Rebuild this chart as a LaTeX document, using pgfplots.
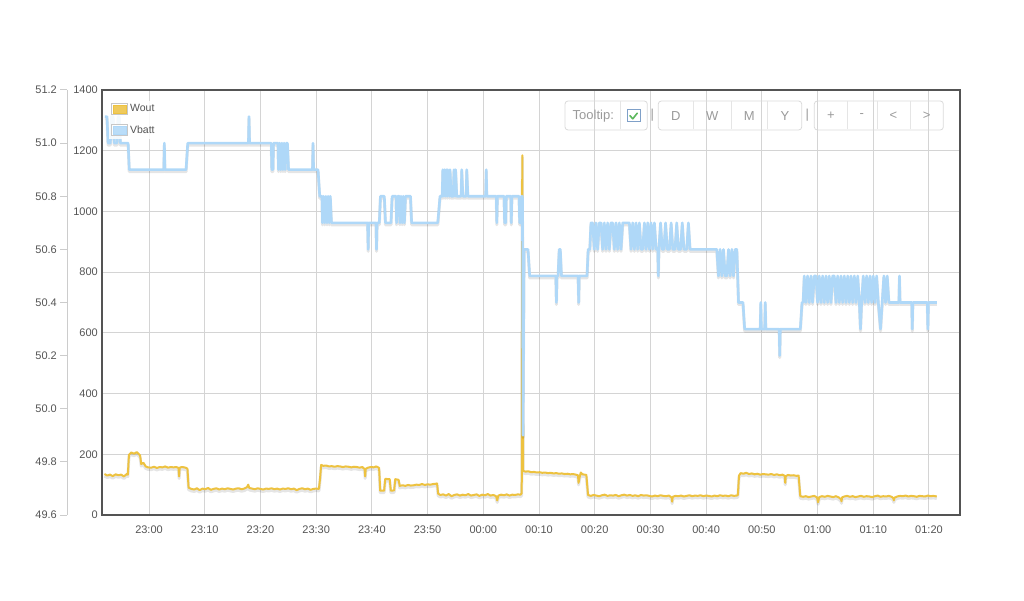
\documentclass[border=0pt]{standalone}
\usepackage{pgfplots}
\pgfplotsset{compat=1.18}
\usepackage{pgfplotstable}
\usepackage{fontspec}
\setmainfont{Liberation Sans}
\definecolor{woutc}{HTML}{EDC240}
\definecolor{vbattc}{HTML}{AFD8F8}
\definecolor{gridc}{HTML}{D4D4D4}
\definecolor{framec}{HTML}{545454}
\definecolor{labelc}{HTML}{545454}
\definecolor{vaxc}{HTML}{CCCCCC}
\definecolor{btnc}{HTML}{DADADA}
\definecolor{btntext}{HTML}{9A9A9A}
\definecolor{chkc}{HTML}{7FA0C8}
\definecolor{chkg}{HTML}{5CB85C}

\pgfplotstableread{
t w
-8.0 135
-7.5 130
-7.0 133
-6.5 128
-6.0 134
-5.5 131
-5.0 133
-4.5 127
-4.0 135
-3.8 133
-3.6 198
-3.2 206
-2.7 202
-2.2 207
-1.8 200
-1.6 196
-1.4 168
-1.0 172
-0.6 160
-0.2 157
0.4 156
0.9 159
1.4 155
1.9 158
2.4 157
2.9 160
3.4 156
3.9 158
4.4 157
4.9 158
5.3 155
5.4 127
5.5 156
5.9 158
6.3 157
6.7 155
6.9 152
7.1 90
7.6 86
8.1 84
8.6 88
9.1 82
9.6 87
10.1 85
10.6 89
11.1 83
11.6 86
12.1 88
12.6 84
13.1 87
13.6 85
14.1 88
14.6 86
15.1 84
15.6 87
16.1 88
16.6 85
17.1 87
17.6 92
17.8 100
18.0 89
18.5 87
19.0 85
19.5 88
20.0 86
20.5 84
21.0 87
21.5 86
22.0 88
22.5 85
23.0 87
23.5 84
24.0 87
24.5 86
25.0 88
25.5 85
26.0 87
26.5 82
27.0 86
27.5 88
28.0 85
28.5 87
29.0 83
29.5 86
30.0 87
30.5 86
30.7 120
30.9 165
31.3 162
31.8 163
32.3 160
32.8 161
33.3 159
33.8 161
34.3 160
34.8 158
35.3 160
35.8 159
36.3 157
36.8 159
37.3 158
37.8 156
38.3 158
38.7 151
38.8 127
38.9 152
39.3 156
39.8 158
40.3 157
40.8 160
41.3 155
41.5 80
42.2 80
42.4 119
43.2 118
43.4 80
44.0 81
44.2 118
44.8 116
45.0 96
45.5 98
46.0 96
46.5 99
47.0 97
47.5 98
48.0 100
48.5 99
49.0 102
49.5 99
50.0 101
50.5 100
51.0 102
51.5 103
51.7 104
51.9 70
52.3 66
52.8 68
53.3 64
53.8 69
54.3 62
54.8 66
55.3 68
55.8 64
56.3 67
56.8 65
57.3 69
57.8 64
58.3 66
58.8 68
59.3 63
59.8 67
60.3 65
60.8 69
61.3 64
61.8 66
62.3 62
62.5 48
62.7 64
63.2 67
63.7 65
64.2 68
64.7 64
65.2 67
65.7 66
66.2 68
66.7 67
66.9 72
67.0 1185
67.15 145
67.6 143
68.1 144
68.6 141
69.1 142
69.6 140
70.1 141
70.6 139
71.1 140
71.6 138
72.1 139
72.6 137
73.1 138
73.6 136
74.1 137
74.6 135
75.1 136
75.6 134
76.1 135
76.6 133
77.0 131
77.1 106
77.3 125
77.5 140
77.8 134
78.2 133
78.5 132
78.8 66
79.3 63
79.8 66
80.3 64
80.8 62
81.3 65
81.8 67
82.3 63
82.8 65
83.3 64
83.8 66
84.3 62
84.8 65
85.3 67
85.8 64
86.3 66
86.8 63
87.3 65
87.8 62
88.3 66
88.8 64
89.3 65
89.8 63
90.3 61
90.8 64
91.3 62
91.8 65
92.3 63
92.8 62
93.3 64
93.8 58
93.9 44
94.0 60
94.5 63
95.0 62
95.5 64
96.0 61
96.5 63
97.0 65
97.5 62
98.0 64
98.5 63
99.0 65
99.5 62
100.0 64
100.5 63
101.0 61
101.5 64
102.0 62
102.5 65
103.0 63
103.5 64
104.0 62
104.5 65
105.0 63
105.5 64
105.7 66
105.9 130
106.2 138
106.7 136
107.2 139
107.7 135
108.2 137
108.7 134
109.2 136
109.7 133
110.2 135
110.7 134
111.2 133
111.7 135
112.2 132
112.7 134
113.2 131
113.7 133
114.1 129
114.2 106
114.3 128
114.7 132
115.2 130
115.7 131
116.2 129
116.6 130
116.9 62
117.4 60
117.9 62
118.4 59
118.9 61
119.4 63
119.9 58
120.1 42
120.3 59
120.8 62
121.3 60
121.8 63
122.3 61
122.8 59
123.3 62
123.8 58
124.2 52
124.3 45
124.4 58
124.8 61
125.3 63
125.8 60
126.3 62
126.8 59
127.3 61
127.8 63
128.3 60
128.8 62
129.3 61
129.8 59
130.3 62
130.8 64
131.3 60
131.8 62
132.3 61
132.8 63
133.3 60
133.6 55
133.7 48
133.8 57
134.3 61
134.8 63
135.3 62
135.8 64
136.3 61
136.8 63
137.3 62
137.8 60
138.3 63
138.8 62
139.3 61
139.8 64
140.3 62
140.8 63
141.4 61
}\wouttable

\pgfplotstableread{
t v
-8.0 51.1
-7.6 51.1
-7.4 51.0
-7.0 51.0
-6.8 51.1
-6.5 51.1
-6.3 51.0
-5.8 51.0
-5.6 51.1
-5.4 51.1
-5.2 51.0
-3.8 51.0
-3.6 50.9
2.6 50.9
2.7 51.0
2.8 50.9
6.6 50.9
6.9 51.0
17.8 51.0
17.9 51.1
18.0 51.0
21.9 51.0
22.0 50.9
22.2 50.9
22.3 51.0
23.1 51.0
23.2 50.9
23.4 51.0
23.6 50.9
23.8 51.0
24.0 50.9
24.2 51.0
24.4 50.9
24.6 51.0
24.8 51.0
25.0 50.9
29.3 50.9
29.4 51.0
29.5 50.9
30.3 50.9
30.6 50.8
31.0 50.8
31.1 50.7
31.3 50.8
31.5 50.7
31.7 50.8
31.9 50.7
32.1 50.8
32.3 50.7
32.5 50.8
32.7 50.7
39.2 50.7
39.3 50.6
39.4 50.7
40.7 50.7
40.8 50.6
40.9 50.7
41.3 50.7
41.5 50.8
42.2 50.8
42.4 50.7
43.4 50.7
43.6 50.8
44.3 50.8
44.4 50.7
44.6 50.8
44.9 50.8
45.0 50.7
45.2 50.8
45.4 50.7
45.6 50.8
45.8 50.7
46.0 50.8
46.9 50.8
47.1 50.7
51.8 50.7
52.2 50.8
52.6 50.8
52.7 50.9
52.9 50.8
53.0 50.9
53.2 50.8
53.3 50.9
53.5 50.8
53.6 50.9
53.9 50.8
54.0 50.9
54.2 50.8
54.6 50.8
54.7 50.9
54.9 50.8
55.0 50.9
55.2 50.8
56.0 50.8
56.1 50.9
56.3 50.8
56.9 50.8
57.0 50.9
57.2 50.8
60.4 50.8
60.5 50.9
60.6 50.8
62.3 50.8
62.4 50.7
62.5 50.8
63.7 50.8
63.8 50.7
64.0 50.7
64.1 50.8
64.9 50.8
65.0 50.7
65.1 50.8
66.4 50.8
66.5 50.7
66.7 50.7
66.8 50.8
67.0 50.8
67.1 49.9
67.3 50.6
68.0 50.6
68.3 50.5
73.0 50.5
73.1 50.4
73.2 50.5
73.4 50.5
73.6 50.6
73.8 50.6
74.0 50.5
77.0 50.5
77.1 50.4
77.2 50.5
78.6 50.5
78.8 50.6
79.1 50.6
79.3 50.7
79.6 50.7
79.9 50.6
80.2 50.7
80.5 50.6
80.8 50.7
81.1 50.7
81.4 50.6
81.7 50.7
82.0 50.6
82.3 50.7
82.6 50.6
82.9 50.7
83.2 50.7
83.5 50.6
83.8 50.7
84.1 50.6
84.4 50.7
84.7 50.6
85.0 50.7
86.2 50.7
86.5 50.6
86.8 50.7
87.1 50.6
87.4 50.7
87.7 50.6
88.0 50.7
88.3 50.6
88.6 50.6
88.9 50.7
89.2 50.6
89.5 50.7
89.8 50.6
90.1 50.7
90.4 50.6
90.7 50.7
91.0 50.6
91.3 50.6
91.4 50.5
91.5 50.6
91.8 50.7
92.1 50.6
92.4 50.6
92.7 50.7
93.0 50.6
93.4 50.6
93.7 50.7
94.0 50.6
94.4 50.6
94.7 50.7
95.0 50.6
95.4 50.6
95.7 50.7
96.0 50.6
96.5 50.6
96.8 50.7
97.1 50.6
101.9 50.6
102.2 50.5
102.5 50.6
102.8 50.5
103.1 50.6
103.4 50.5
103.7 50.5
104.0 50.6
104.3 50.5
104.6 50.6
104.9 50.5
105.2 50.6
105.5 50.6
105.8 50.4
106.6 50.4
106.9 50.3
109.7 50.3
109.8 50.4
109.9 50.3
110.5 50.3
110.6 50.4
110.7 50.3
113.1 50.3
113.2 50.2
113.3 50.3
116.9 50.3
117.2 50.4
117.4 50.4
117.6 50.5
117.9 50.4
118.2 50.5
118.5 50.4
118.8 50.5
119.1 50.4
119.4 50.5
119.7 50.5
120.0 50.4
120.3 50.5
120.6 50.4
120.9 50.5
121.2 50.4
121.5 50.5
121.8 50.4
122.1 50.5
122.4 50.4
122.7 50.5
123.0 50.5
123.3 50.4
123.6 50.5
123.9 50.4
124.2 50.5
124.5 50.4
124.8 50.5
125.1 50.4
125.4 50.5
125.7 50.4
126.0 50.5
126.3 50.4
126.6 50.5
126.9 50.4
127.2 50.5
127.5 50.4
127.7 50.3
127.9 50.4
128.2 50.5
128.5 50.4
128.8 50.5
129.1 50.4
129.4 50.5
129.7 50.4
130.0 50.5
130.3 50.4
130.6 50.5
130.9 50.4
131.3 50.3
131.6 50.4
131.9 50.5
132.2 50.4
132.5 50.5
132.8 50.4
134.6 50.4
134.7 50.5
134.8 50.4
136.9 50.4
137.0 50.3
137.1 50.4
139.7 50.4
139.8 50.3
139.9 50.4
141.4 50.4
}\vbatttable

\begin{document}
\begin{tikzpicture}[x=1pt,y=1pt]
\begin{axis}[
  at={(102pt,85pt)}, anchor=south west,
  scale only axis, width=858pt, height=425pt,
  xmin=-8.44, xmax=145.57, ymin=0, ymax=1400,
  xtick={0,10,...,140},
  xticklabels={23:00,23:10,23:20,23:30,23:40,23:50,00:00,00:10,00:20,00:30,00:40,00:50,01:00,01:10,01:20},
  ytick={0,200,...,1400},
  yticklabels={0,200,400,600,800,1000,1200,1400},
  grid=major, major grid style={gridc, line width=1pt},
  major tick length=0pt,
  axis line style={framec, line width=2pt},
  /pgf/number format/assume math mode=true,
  tick label style={font=\fontsize{11}{13}\selectfont, text=labelc},
  xticklabel style={anchor=base, yshift=-18pt},
  yticklabel style={anchor=east, inner sep=4pt},
]
\addplot[forget plot, draw=black, draw opacity=0.10, line width=3pt, yshift=-2pt, line join=round, mark=none] table[x=t,y=w] {\wouttable};
\addplot[forget plot, draw=woutc, line width=2pt, line join=round, mark=none] table[x=t,y=w] {\wouttable};
\end{axis}

\begin{axis}[
  at={(67pt,85pt)}, anchor=south west,
  scale only axis, width=893pt, height=425pt,
  xmin=-14.78, xmax=145.57, ymin=49.6, ymax=51.2,
  axis x line=none, axis y line*=left,
  y axis line style={vaxc, line width=1pt, -},
  ytick={49.6,49.8,50.0,50.2,50.4,50.6,50.8,51.0,51.2},
  yticklabels={49.6,49.8,50.0,50.2,50.4,50.6,50.8,51.0,51.2},
  tick align=outside, major tick length=7pt,
  ytick style={vaxc, line width=1pt},
  /pgf/number format/assume math mode=true,
  tick label style={font=\fontsize{11}{13}\selectfont, text=labelc},
  yticklabel style={anchor=east, inner sep=3pt},
  legend image code/.code={
    \draw[draw=black!22, fill=white, line width=0.8pt] (0pt,-5.5pt) rectangle (16.6pt,5.5pt);
    \fill[#1] (2pt,-3.8pt) rectangle (14.6pt,3.8pt);},
  legend style={at={(0.0465,1)}, anchor=north west, yshift=-10.5pt,
    draw=none, fill=white, fill opacity=0.85, text opacity=1,
    inner sep=2pt, row sep=8pt,
    font=\fontsize{10.5}{12}\selectfont, text=labelc},
  legend cell align=left,
]
\addplot[forget plot, draw=black, draw opacity=0.10, line width=3pt, yshift=-2pt, line join=round, mark=none] table[x=t,y=v] {\vbatttable};
\addplot[forget plot, draw=vbattc, line width=2.6pt, line join=round, mark=none] table[x=t,y=v] {\vbatttable};
\addlegendimage{woutc}
\addlegendentry{Wout}
\addlegendimage{vbattc}
\addlegendentry{Vbatt}
\end{axis}

% toolbar
\begin{scope}[font=\fontsize{13}{15}\selectfont, text=btntext]
\draw[btnc, line width=0.8pt, rounded corners=3pt] (565,470) rectangle (647.3,499);
\draw[btnc!70, line width=0.8pt] (620.7,470.5) -- (620.7,498.5);
\node at (593.3,484) {Tooltip:};
\draw[chkc, fill=white, line width=1pt] (627,478) rectangle (640,490);
\draw[chkg, line width=1.6pt, line cap=round, line join=round] (630,484.2) -- (632.8,481.2) -- (637.2,486.8);
\node at (652.3,484.5) {|};
\draw[btnc, line width=0.8pt, rounded corners=3pt] (658.3,470) rectangle (801.7,499);
\foreach \xx in {693.3,731.7,767.3} \draw[btnc!70, line width=0.8pt] (\xx,470.5) -- (\xx,498.5);
\node at (675.7,484) {D};
\node at (712.3,484) {W};
\node at (749.3,484) {M};
\node at (785,484) {Y};
\node at (807.3,484.5) {|};
\draw[btnc, line width=0.8pt, rounded corners=3pt] (814.3,470) rectangle (943.3,499);
\foreach \xx in {847.3,877.3,910.7} \draw[btnc!70, line width=0.8pt] (\xx,470.5) -- (\xx,498.5);
\node at (831,484) {+};
\node at (861.7,484) {-};
\node at (893.3,484) {<};
\node at (926.7,484) {>};
\end{scope}

\pgfresetboundingbox
\useasboundingbox (0,0) rectangle (1024,600);
\end{tikzpicture}
\end{document}
